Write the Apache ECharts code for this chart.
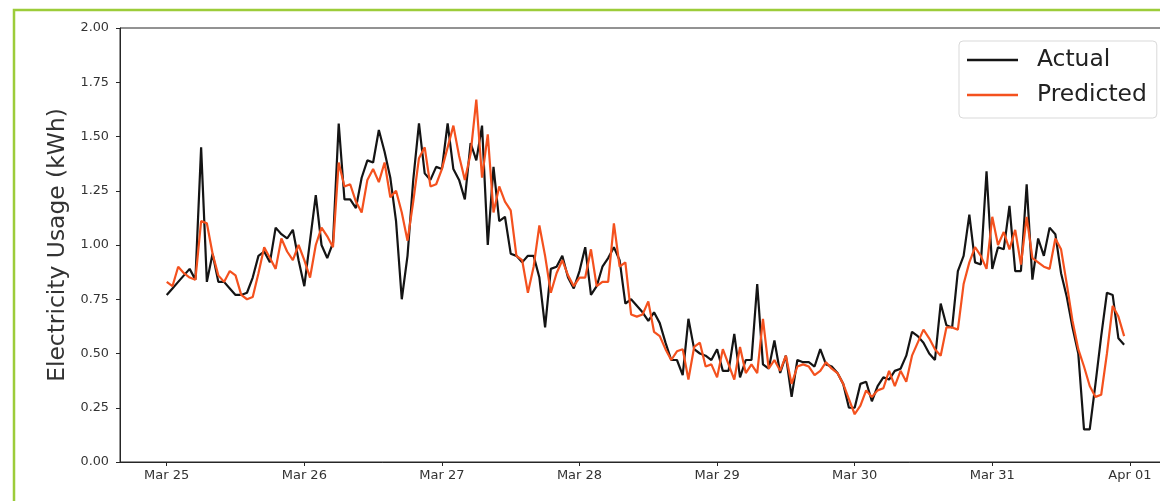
<!DOCTYPE html>
<html>
<head>
<meta charset="utf-8">
<title>Electricity Usage: Actual vs Predicted</title>
<script src="https://cdn.jsdelivr.net/npm/echarts@6/dist/echarts.min.js"></script>
<style>
  html, body { margin: 0; padding: 0; background: #ffffff; overflow: hidden; }
  /* the plot frame runs a little past the right edge of the window */
  #chart { width: 1190px; height: 501px; }
</style>
</head>
<body>
<div id="chart"></div>
<script>
// Hourly readings, Mar 25 00:00 through Mar 31 23:00 (one row per day)
const dayLabels = ['Mar 25', 'Mar 26', 'Mar 27', 'Mar 28', 'Mar 29', 'Mar 30', 'Mar 31', 'Apr 01'];

const actualKWh = [
  0.77,0.80,0.83,0.86,0.89,0.84,1.45,0.83,0.96,0.83,0.83,0.80,0.77,0.77,0.78,0.85,0.95,0.97,0.92,1.08,1.05,1.03,1.07,0.93,
  0.81,1.02,1.23,1.00,0.94,1.01,1.56,1.21,1.21,1.17,1.31,1.39,1.38,1.53,1.43,1.31,1.11,0.75,0.95,1.30,1.56,1.33,1.30,1.36,
  1.35,1.56,1.35,1.30,1.21,1.47,1.39,1.55,1.00,1.36,1.11,1.13,0.96,0.95,0.92,0.95,0.95,0.85,0.62,0.89,0.90,0.95,0.85,0.80,
  0.88,0.99,0.77,0.81,0.90,0.94,0.99,0.93,0.73,0.75,0.72,0.69,0.65,0.69,0.64,0.55,0.47,0.47,0.40,0.66,0.52,0.50,0.49,0.47,
  0.52,0.42,0.42,0.59,0.39,0.47,0.47,0.82,0.45,0.43,0.56,0.41,0.49,0.30,0.47,0.46,0.46,0.44,0.52,0.45,0.44,0.41,0.36,0.25,
  0.25,0.36,0.37,0.28,0.35,0.39,0.38,0.42,0.43,0.49,0.60,0.58,0.55,0.50,0.47,0.73,0.63,0.62,0.88,0.95,1.14,0.92,0.91,1.34,
  0.89,0.99,0.98,1.18,0.88,0.88,1.28,0.84,1.03,0.95,1.08,1.05,0.87,0.76,0.62,0.50,0.15,0.15,0.36,0.58,0.78,0.77,0.57,0.54
];

const predictedKWh = [
  0.83,0.81,0.90,0.87,0.85,0.84,1.11,1.10,0.96,0.86,0.83,0.88,0.86,0.77,0.75,0.76,0.87,0.99,0.94,0.89,1.03,0.97,0.93,1.00,
  0.93,0.85,1.00,1.08,1.04,0.99,1.38,1.27,1.28,1.20,1.15,1.30,1.35,1.29,1.38,1.22,1.25,1.15,1.02,1.20,1.40,1.45,1.27,1.28,
  1.35,1.45,1.55,1.41,1.30,1.42,1.67,1.31,1.51,1.15,1.27,1.20,1.16,0.95,0.93,0.78,0.90,1.09,0.95,0.78,0.87,0.93,0.86,0.81,
  0.85,0.85,0.98,0.81,0.83,0.83,1.10,0.90,0.92,0.68,0.67,0.68,0.74,0.60,0.58,0.52,0.47,0.51,0.52,0.38,0.53,0.55,0.44,0.45,
  0.39,0.52,0.45,0.38,0.53,0.41,0.45,0.41,0.66,0.43,0.47,0.42,0.49,0.36,0.44,0.45,0.44,0.40,0.42,0.46,0.43,0.41,0.36,0.29,
  0.22,0.26,0.33,0.30,0.33,0.34,0.42,0.35,0.42,0.37,0.49,0.55,0.61,0.57,0.52,0.49,0.62,0.62,0.61,0.82,0.92,0.99,0.95,0.89,
  1.13,1.00,1.06,0.98,1.07,0.91,1.13,0.94,0.92,0.90,0.89,1.03,0.98,0.82,0.65,0.52,0.44,0.35,0.30,0.31,0.50,0.72,0.67,0.58
];

const HOURS_PER_DAY = 24;
const dayTicks = dayLabels.map((_, i) => i * HOURS_PER_DAY);
const toPoints = arr => arr.map((v, h) => [h, v]);

const FONT = 'DejaVu Sans';
const AXIS_COLOR = '#262626';
const TEXT_COLOR = '#333333';

const chart = echarts.init(document.getElementById('chart'), null, { renderer: 'canvas' });

chart.setOption({
  animation: false,
  backgroundColor: '#ffffff',
  graphic: [{
    type: 'rect',
    shape: { x: 14, y: 10, width: 2000, height: 2000 },
    style: { fill: 'none', stroke: '#9ccc3a', lineWidth: 2.5 },
    silent: true,
    z: 100
  }],
  grid: {
    left: 120, top: 28, width: 1052, height: 434,
    show: true, borderColor: AXIS_COLOR, borderWidth: 1,
    containLabel: false
  },
  legend: {
    orient: 'vertical',
    left: 959, top: 41,
    padding: [5, 10, 9, 8],
    itemWidth: 51, itemHeight: 2.5, icon: 'rect',
    itemGap: 7,
    backgroundColor: '#ffffff',
    borderColor: '#d9d9d9', borderWidth: 1, borderRadius: 4,
    textStyle: { fontFamily: FONT, fontSize: 23.4, color: '#222222', lineHeight: 28, padding: [0, 0, 0, 14] },
    data: ['Actual', 'Predicted']
  },
  xAxis: {
    type: 'value',
    min: -8.15, max: 175.35,
    axisLine: { show: true, onZero: false, lineStyle: { color: AXIS_COLOR, width: 1 } },
    axisTick: { show: true, customValues: dayTicks, length: 4, lineStyle: { color: AXIS_COLOR } },
    axisLabel: {
      customValues: dayTicks,
      formatter: v => dayLabels[Math.round(v / HOURS_PER_DAY)] || '',
      fontFamily: FONT, fontSize: 13, color: TEXT_COLOR, margin: 7
    },
    splitLine: { show: false }
  },
  yAxis: {
    type: 'value',
    min: 0, max: 2, interval: 0.25,
    name: 'Electricity Usage (kWh)',
    nameLocation: 'middle',
    nameGap: 50,
    nameTextStyle: { fontFamily: FONT, fontSize: 23.4, color: TEXT_COLOR },
    axisLine: { show: true, onZero: false, lineStyle: { color: AXIS_COLOR, width: 1 } },
    axisTick: { show: true, length: 4, lineStyle: { color: AXIS_COLOR } },
    axisLabel: {
      formatter: v => v.toFixed(2),
      fontFamily: FONT, fontSize: 12.8, color: TEXT_COLOR, margin: 11
    },
    splitLine: { show: false }
  },
  series: [
    {
      name: 'Actual',
      type: 'line',
      data: toPoints(actualKWh),
      showSymbol: false, symbol: 'none',
      color: '#141414',
      lineStyle: { color: '#141414', width: 2.2 },
      z: 2
    },
    {
      name: 'Predicted',
      type: 'line',
      data: toPoints(predictedKWh),
      showSymbol: false, symbol: 'none',
      color: '#f4511e',
      lineStyle: { color: '#f4511e', width: 2.2 },
      z: 3
    }
  ]
});
</script>
</body>
</html>
